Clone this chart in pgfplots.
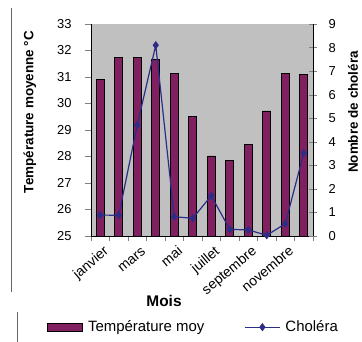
\documentclass[border=0pt]{standalone}
\usepackage{pgfplots}
\pgfplotsset{compat=1.18}
\usepackage{pgfplotstable}
\usepackage{fontspec}
\setmainfont{Liberation Sans}

\definecolor{barcol}{RGB}{128,32,96}
\definecolor{linecol}{RGB}{45,45,135}
\definecolor{plotbg}{RGB}{192,192,192}

% Monthly mean temperature (left axis) and cholera cases (right axis)
\pgfplotstableread{
idx temp chol
0  30.92 0.89
1  31.75 0.88
2  31.74 4.71
3  31.67 8.10
4  31.14 0.82
5  29.50 0.75
6  28.02 1.71
7  27.85 0.28
8  28.46 0.26
9  29.72 0.03
10 31.14 0.52
11 31.09 3.52
}\monthdata

\pgfplotsset{
  commonaxis/.style={
    at={(91bp,106bp)}, anchor=south west,
    width=222bp, height=212bp, scale only axis,
    xmin=-0.5, xmax=11.5,
    axis line style={-, line width=0.8bp, black},
    ticklabel style={font=\fontsize{13}{13}\selectfont},
    /pgf/number format/assume math mode=true,
    label style={font=\bfseries\fontsize{13.5}{13.5}\selectfont},
  },
  cholleg/.style={legend image code/.code={
    \draw[linecol, line width=1.2bp] (0bp,0bp) -- (35bp,0bp);
    \draw[linecol, fill=linecol, mark repeat=2, mark phase=2, mark=diamond*, mark size=3.2bp]
      plot coordinates {(0bp,0bp) (17.5bp,0bp) (35bp,0bp)};}},
}

\begin{document}
\begin{tikzpicture}[x=1bp,y=1bp]
\path[use as bounding box] (0,0) rectangle (362,342);
\draw[black!60, line width=0.8bp] (11,334) -- (11,50);
\draw[black!60, line width=0.8bp] (17,30) -- (17,0);

\begin{axis}[
  commonaxis,
  ymin=25, ymax=33,
  axis background/.style={fill=plotbg},
  axis x line*=bottom, axis y line*=left,
  ytick={25,26,...,33},
  xtick={0,2,4,6,8,10},
  xticklabels={janvier,mars,mai,juillet,septembre,novembre},
  major x tick style={draw=none},
  minor xtick={-0.5,0.5,...,11.5},
  minor tick length=5bp,
  major tick length=6bp,
  tick align=outside,
  xticklabel style={rotate=40, anchor=north east, xshift=1bp, yshift=-3bp,
    text height=10bp, text depth=3bp, inner sep=1bp,
    font=\fontsize{14}{14}\selectfont},
  yticklabel style={xshift=-10bp},
  ylabel={Température moyenne °C},
  ylabel style={at={(axis description cs:-0.275,0.585)}, anchor=center},
  xlabel={Mois},
  xlabel style={at={(axis description cs:0.329,-0.307)}, anchor=center,
    font=\bfseries\fontsize{15.5}{15.5}\selectfont},
]
\addplot[ybar, bar width=8bp, fill=barcol, draw=black, line width=0.8bp]
  table[x=idx, y=temp] {\monthdata};
\end{axis}

\begin{axis}[
  commonaxis,
  ymin=0, ymax=9,
  axis x line=none, axis y line*=right,
  ytick={0,1,...,9},
  tick align=center,
  major tick length=8bp,
  yticklabel style={xshift=8bp},
  ylabel={Nombre de choléra},
  ylabel style={at={(axis description cs:1.18,0.585)}, anchor=center},
  legend columns=2,
  legend style={at={(axis description cs:-0.198,-0.43)}, anchor=west,
    draw=none, fill=none, inner sep=0pt,
    font=\fontsize{15}{15}\selectfont,
    /tikz/every odd column/.append style={column sep=3bp},
    /tikz/every even column/.append style={column sep=38bp}},
]
\addlegendimage{legend image code/.code={
  \draw[fill=barcol, draw=black, line width=0.8bp] (0bp,-4bp) rectangle (35bp,4bp);}}
\addlegendentry{Température moy}
\addplot[linecol, line width=1.2bp, mark=diamond*, mark size=3.2bp,
  mark options={fill=linecol}, cholleg]
  table[x=idx, y=chol] {\monthdata};
\addlegendentry{Choléra}
\end{axis}
\end{tikzpicture}
\end{document}
